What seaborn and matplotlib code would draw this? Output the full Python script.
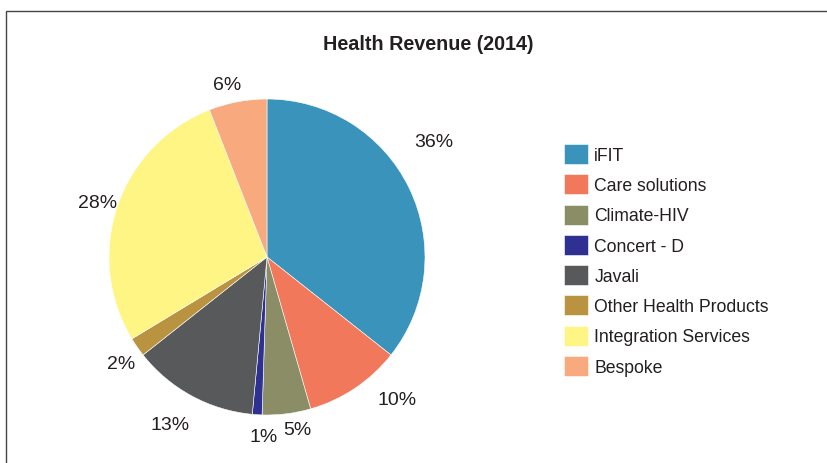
import seaborn as sns
import matplotlib.pyplot as plt
from matplotlib.patches import Rectangle

# data
categories = ['iFIT', 'Care solutions', 'Climate-HIV', 'Concert - D', 'Javali',
              'Other Health Products', 'Integration Services', 'Bespoke']
shares = [36, 10, 5, 1, 13, 2, 28, 6]
colors = ['#3A93BA', '#F2785C', '#8A8D66', '#2E3192', '#58595B',
          '#BA9340', '#FFF584', '#F8AA7E']
# where each percentage label sits, in pie-radius units from the centre
label_pos = [(1.054, 0.728), (0.823, -0.905), (0.19, -1.089), (-0.019, -1.133),
             (-0.614, -1.057), (-0.924, -0.671), (-1.070, 0.348), (-0.250, 1.089)]

sns.set_theme(style="white")
plt.rcParams['font.family'] = ['Liberation Sans', 'DejaVu Sans']

W, H = 828, 464
fig = plt.figure(figsize=(W / 100, H / 100), dpi=100)

# frame line (cropped at right and bottom)
fig.patches.append(Rectangle((6 / W, -0.1), 1.2, 1 - 12 / H + 0.1,
                             transform=fig.transFigure, fill=False,
                             edgecolor='#444444', linewidth=1.0))

fig.text(428 / W, 1 - 44 / H, 'Health Revenue (2014)', ha='center', va='center',
         fontsize=14.2, fontweight='bold', color='#231F20')

cx, cy, r = 267, 258, 158
ax = fig.add_axes([(cx - r) / W, 1 - (cy + r) / H, 2 * r / W, 2 * r / H])
wedges, texts = ax.pie(shares, colors=sns.color_palette(colors),
                       labels=[f'{v}%' for v in shares], labeldistance=1.2,
                       startangle=90, counterclock=False,
                       wedgeprops=dict(edgecolor='white', linewidth=0.4))
for t, pos in zip(texts, label_pos):
    t.set_position(pos)
    t.set_ha('center')
    t.set_va('center')
    t.set_fontsize(14)
    t.set_color('#231F20')
ax.set_xlim(-1, 1)
ax.set_ylim(-1, 1)
ax.set_aspect('equal')

fs = 12.7
fig.legend(wedges, categories, loc='upper left',
           bbox_to_anchor=(564 / W, 1 - 145 / H), frameon=False,
           fontsize=fs, handlelength=1.37, handleheight=1.37,
           labelspacing=0.58, handletextpad=0.35, borderaxespad=0,
           borderpad=0, labelcolor='#231F20')

fig.savefig('out.png', dpi=100, facecolor='white')
